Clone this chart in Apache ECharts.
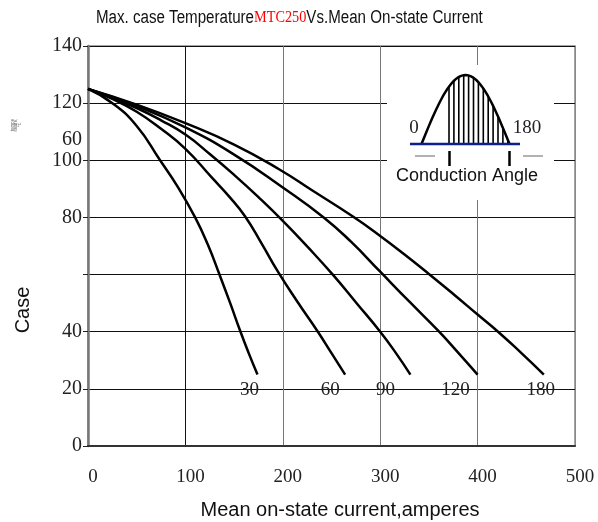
<!DOCTYPE html>
<html>
<head>
<meta charset="utf-8">
<script src="https://cdn.jsdelivr.net/npm/echarts@6/dist/echarts.min.js"></script>
<style>
html, body { margin: 0; padding: 0; background: #fff; }
#chart { width: 598px; height: 522px; }
</style>
</head>
<body>
<div id="chart"></div>
<script>
'use strict';

// conduction angle of each curve
const angles = ['30', '60', '90', '120', '180'];

// [mean on-state current (A), max case temperature (C)]
const curve30 = [[0, 125], [25, 120], [50, 112], [74, 100], [92, 90.8], [110, 80], [123, 70.5],
    [135, 60], [146, 50], [156, 40.5], [165, 32.5], [174, 25]];
const curve60 = [[0, 125], [25, 121.5], [50, 117], [75, 111], [100, 104], [127, 94], [145, 87.3],
    [161, 80.5], [178, 71], [195, 61], [215, 50.5], [236, 40], [250, 32.5], [264, 25]];
const curve90 = [[0, 125], [25, 121.8], [50, 118.3], [75, 114], [100, 109], [125, 102.2], [150, 94.9],
    [175, 87.1], [200, 78.8], [226, 69.5], [252, 59.7], [276, 49.9], [300, 40], [316, 32.6], [331, 25]];
const curve120 = [[0, 125], [50, 119], [100, 111.5], [150, 102], [200, 90.5], [242, 80], [270, 71.5],
    [300, 61], [330, 50.5], [360, 40.2], [380, 32.7], [400, 25]];
const curve180 = [[0, 125], [50, 119.5], [100, 113], [150, 105.5], [197, 96.7], [230, 89.5], [272, 80.3],
    [300, 73.5], [325, 67], [350, 60.2], [375, 53.2], [400, 46], [421, 40], [445, 32.5], [468, 25]];
const curves = [curve30, curve60, curve90, curve120, curve180];

// axes
const xMax = 500, xStep = 100;
const yMax = 140, yStep = 20;
const yMovedLabel = 60;   // printed up between 120 and 100 in the original

// where each angle label sits relative to the end of its curve (px)
const labelShift = [[-8, 15], [-15, 15], [-25, 15], [-22, 15], [-3, 15]];

const SERIF = 'Liberation Serif';
const SANS = 'Liberation Sans';

let myChart = echarts.init(document.getElementById('chart'));

let series = curves.map(function (pts, i) {
    let data = pts.map(function (p, j) {
        if (j < pts.length - 1) {
            return p;
        }
        return {
            value: p,
            label: {
                show: true,
                formatter: angles[i],
                position: 'inside',
                offset: labelShift[i],
                color: '#222',
                fontFamily: SERIF,
                fontSize: 19,
                textBorderWidth: 0
            }
        };
    });
    return {
        name: angles[i],
        type: 'line',
        smooth: 0.5,
        symbol: 'circle',
        symbolSize: 0,
        showSymbol: true,
        lineStyle: {color: '#000', width: 2.5},
        itemStyle: {color: '#000'},
        emphasis: {disabled: true},
        data: data
    };
});

// little conduction angle sketch (top right)
function insetGraphic() {
    let els = [];
    let x0 = 421.5, w = 88, base = 144, amp = 69;
    els.push({type: 'rect', shape: {x: 387, y: 65, width: 167, height: 135}, style: {fill: '#fff'}, z: 5});
    let pts = [];
    for (let i = 0; i <= 48; i++) {
        pts.push([x0 + w * i / 48, base - amp * Math.sin(Math.PI * i / 48)]);
    }
    for (let x = 449; x <= 509; x += 4.9) {
        let top = base - amp * Math.sin(Math.PI * (x - x0) / w);
        els.push({type: 'line', shape: {x1: x, y1: base, x2: x, y2: top}, style: {stroke: '#000', lineWidth: 1.6}, z: 6});
    }
    els.push({type: 'polyline', shape: {points: pts}, style: {stroke: '#000', lineWidth: 2.5, fill: null}, z: 7});
    els.push({type: 'line', shape: {x1: 410, y1: base, x2: 520, y2: base}, style: {stroke: '#0d1f8c', lineWidth: 2.5}, z: 7});
    els.push({type: 'line', shape: {x1: 449.5, y1: 151, x2: 449.5, y2: 166}, style: {stroke: '#000', lineWidth: 2.5}, z: 7});
    els.push({type: 'line', shape: {x1: 509.5, y1: 151, x2: 509.5, y2: 166}, style: {stroke: '#000', lineWidth: 2.5}, z: 7});
    els.push({type: 'line', shape: {x1: 415, y1: 156, x2: 435, y2: 156}, style: {stroke: '#999', lineWidth: 1.5}, z: 7});
    els.push({type: 'line', shape: {x1: 523, y1: 156, x2: 543, y2: 156}, style: {stroke: '#999', lineWidth: 1.5}, z: 7});
    els.push({type: 'text', x: 414, y: 128, style: {text: '0', font: '19px ' + SERIF, fill: '#222', align: 'center', verticalAlign: 'middle'}, z: 7});
    els.push({type: 'text', x: 527, y: 128, style: {text: '180', font: '19px ' + SERIF, fill: '#222', align: 'center', verticalAlign: 'middle'}, z: 7});
    els.push({type: 'text', x: 467, y: 176, style: {text: 'Conduction Angle', font: '18px ' + SANS, fill: '#111', align: 'center', verticalAlign: 'middle'}, z: 7});
    return els;
}

let graphics = insetGraphic().concat([
    // title, squeezed like the condensed face of the original
    {
        type: 'text', x: 96, y: 18, scaleX: 0.84,
        style: {
            text: '{a|Max. case Temperature}{r|MTC250}{a|Vs.Mean On-state Current}',
            verticalAlign: 'middle',
            rich: {
                a: {fontFamily: SANS, fontSize: 18, fill: '#111'},
                r: {fontFamily: SERIF, fontSize: 17, fill: '#f00'}
            }
        }
    },
    {type: 'text', x: 82, y: 140, style: {text: String(yMovedLabel), font: '20px ' + SERIF, fill: '#222', align: 'right', verticalAlign: 'middle'}},
    {type: 'text', x: 23, y: 310, rotation: Math.PI / 2, style: {text: 'Case', font: '20px ' + SANS, fill: '#111', align: 'center', verticalAlign: 'middle'}},
    {type: 'text', x: 16, y: 125, rotation: Math.PI / 2, style: {text: 'tempe\nrature,\n℃', font: '4.5px ' + SANS, fill: '#666', align: 'center', verticalAlign: 'middle', lineHeight: 3.5}}
]);

myChart.setOption({
    animation: false,
    grid: {
        left: 88, right: 23, top: 46, bottom: 76,
        outerBoundsMode: 'none',
        show: true,
        borderColor: '#888',
        borderWidth: 1.5
    },
    xAxis: {
        type: 'value',
        min: 0,
        max: xMax,
        interval: xStep,
        name: 'Mean on-state current,amperes',
        nameLocation: 'middle',
        nameGap: 54,
        nameTextStyle: {fontFamily: SANS, fontSize: 20, color: '#111', padding: [0, 0, 0, 17]},
        axisLine: {lineStyle: {color: '#333', width: 2}},
        axisTick: {show: false},
        axisLabel: {fontFamily: SERIF, fontSize: 19, color: '#222', margin: 22, padding: [0, 0, 0, 10]},
        splitLine: {show: true, lineStyle: {color: ['#666', '#111', '#777', '#777', '#777', '#888'], width: 1}}
    },
    yAxis: {
        type: 'value',
        min: 0,
        max: yMax,
        interval: yStep,
        axisLine: {show: true, lineStyle: {color: '#777', width: 2.5}},
        axisTick: {show: true, length: 5, lineStyle: {color: '#222'}},
        axisLabel: {
            fontFamily: SERIF, fontSize: 20, color: '#222', margin: 6,
            formatter: function (v) {
                return v === yMovedLabel ? '' : String(v);
            }
        },
        splitLine: {show: true, lineStyle: {color: '#111', width: 1}}
    },
    graphic: graphics,
    series: series
});
</script>
</body>
</html>
